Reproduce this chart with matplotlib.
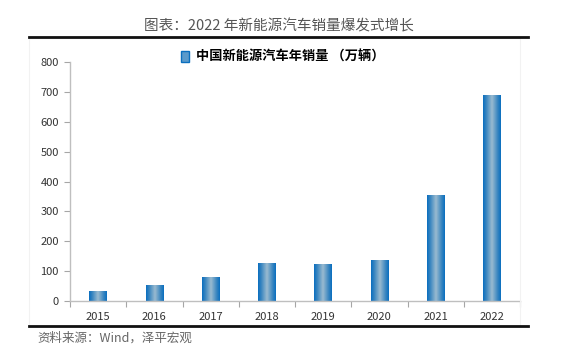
import numpy as np
import matplotlib
matplotlib.use("Agg")
import matplotlib.pyplot as plt
from matplotlib.colors import LinearSegmentedColormap
from matplotlib.patches import Rectangle
from matplotlib.lines import Line2D

plt.rcParams["font.family"] = ["Noto Sans CJK SC", "DejaVu Sans"]

years = ["2015", "2016", "2017", "2018", "2019", "2020", "2021", "2022"]
sales = [33.1, 50.7, 77.7, 125.6, 120.6, 136.7, 352.1, 688.7]

title = "图表：2022 年新能源汽车销量爆发式增长"
legend_label = "中国新能源汽车年销量 （万辆）"
source = "资料来源：Wind，泽平宏观"

fig = plt.figure(figsize=(5.67, 3.6), dpi=100)
ax = fig.add_axes([70 / 567, 1 - 301 / 360, 450 / 567, 239 / 360])

# horizontal gradient for the bars: blue edges, pale centre
cmap = LinearSegmentedColormap.from_list(
    "bar", [(0.0, "#0A6FBF"), (0.18, "#3A86C0"), (0.5, "#9ABBD0"),
            (0.82, "#3A86C0"), (1.0, "#0A6FBF")])
grad = np.linspace(0, 1, 64).reshape(1, -1)

width = 0.31
x = np.arange(len(years))
for xi, v in zip(x, sales):
    ax.imshow(grad, cmap=cmap, aspect="auto", interpolation="bilinear",
              extent=(xi - width / 2, xi + width / 2, 0, v), zorder=2)

ax.set_xlim(-0.5, len(years) - 0.5)
ax.set_ylim(0, 800)
ax.set_yticks(range(0, 801, 100))
ax.set_xticks(x)
ax.set_xticklabels(years)
ax.set_xticks(np.arange(-0.5, len(years), 1), minor=True)

ax.tick_params(axis="x", which="major", length=0, labelsize=8, pad=8,
               colors="#333333")
ax.tick_params(axis="x", which="minor", length=4, width=0.8, color="#A6A6A6",
               direction="out")
ax.tick_params(axis="y", length=4, width=0.8, color="#A6A6A6", labelsize=8,
               pad=4, labelcolor="#333333")

for s in ["top", "right"]:
    ax.spines[s].set_visible(False)
ax.spines["left"].set_color("#BFBFBF")
ax.spines["bottom"].set_color("#BFBFBF")
ax.spines["left"].set_linewidth(1.0)
ax.spines["bottom"].set_linewidth(1.0)

# legend
handle = Rectangle((0, 0), 1, 1, facecolor="#5A9ACB", edgecolor="#0A6FBF")
fig.legend([handle], [legend_label], loc="center", bbox_to_anchor=(283 / 567, 1 - 57 / 360),
           frameon=False, prop={"size": 9.5, "weight": "bold"},
           handlelength=0.6, handleheight=0.9, handletextpad=0.5)

# faint chart frame
fig.add_artist(Rectangle((29 / 567, 1 - 326 / 360), 491 / 567, 288 / 360,
                         transform=fig.transFigure, fill=False,
                         edgecolor="#F2F2F2", linewidth=0.8))

# title and rules
fig.text(279 / 567, 1 - 26 / 360, title, ha="center", va="center",
         fontsize=10.5, color="#555555")
fig.add_artist(Line2D([29 / 567, 528 / 567], [1 - 37 / 360] * 2,
                      transform=fig.transFigure, color="#111111", linewidth=2))
fig.add_artist(Line2D([29 / 567, 528 / 567], [1 - 326 / 360] * 2,
                      transform=fig.transFigure, color="#111111", linewidth=2))
fig.text(37 / 567, 1 - 338 / 360, source, ha="left", va="center",
         fontsize=9, color="#666666", style="italic")

fig.savefig("out.png", dpi=100)
